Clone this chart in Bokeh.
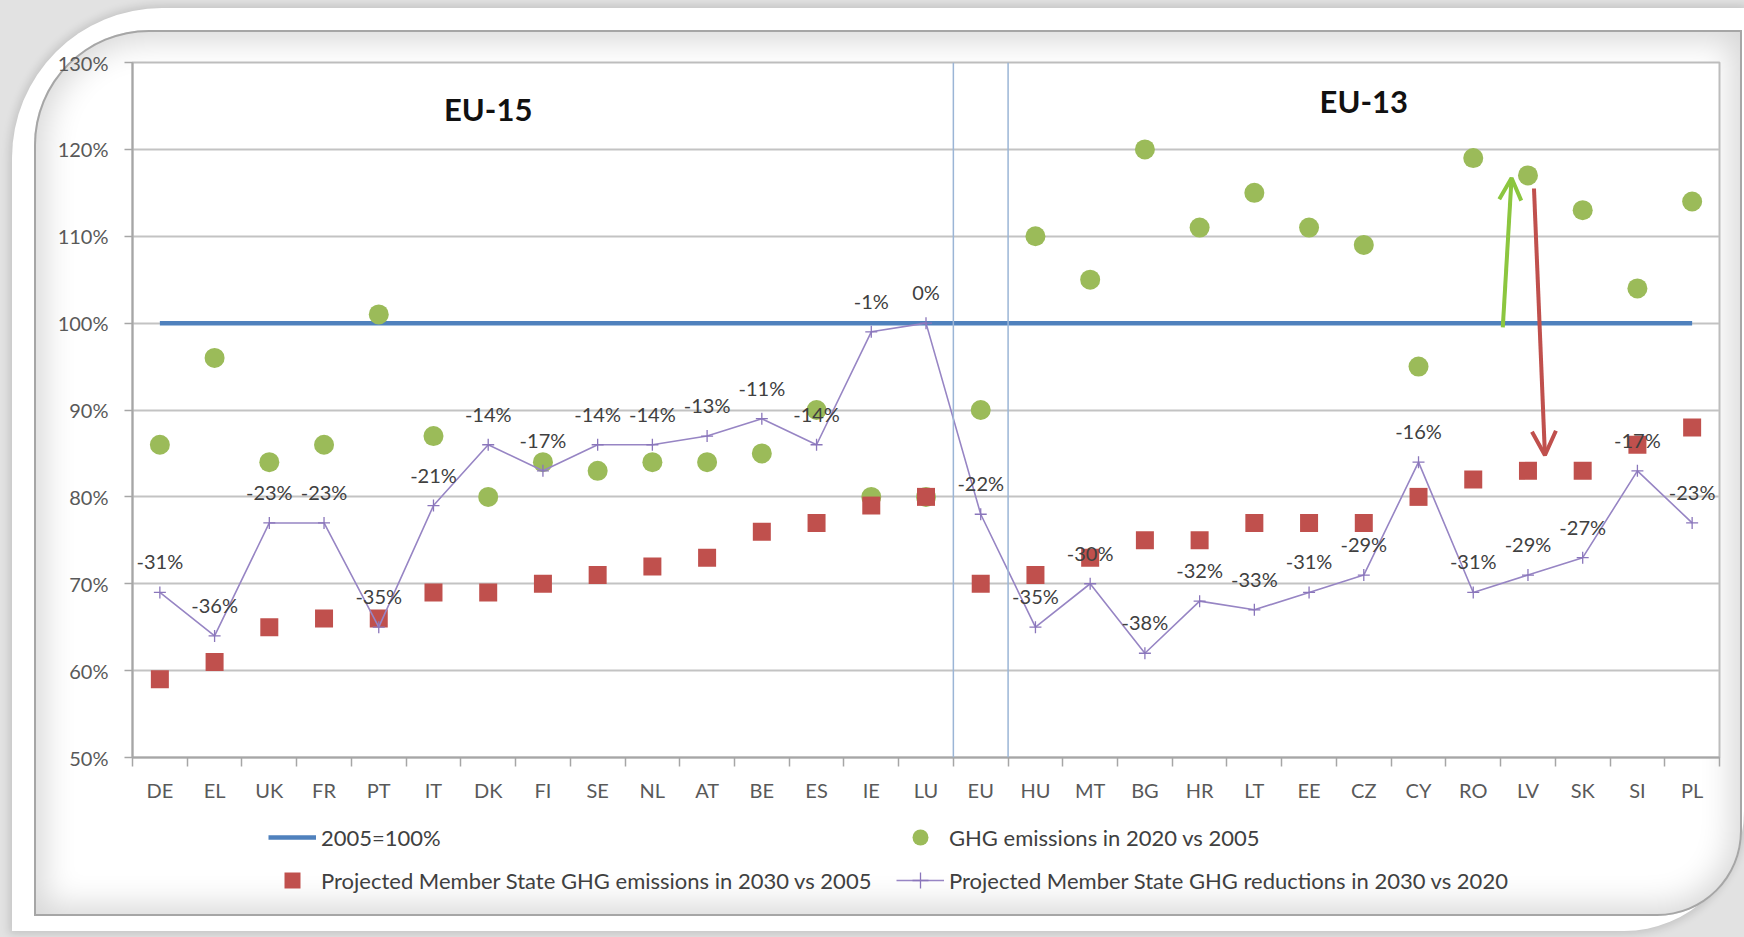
from bokeh.plotting import figure
from bokeh.layouts import column
from bokeh.models import (Range1d, FixedTicker, Span, Legend, LegendItem, Arrow, OpenHead,
                          PrintfTickFormatter)
from bokeh.core.properties import value
from bokeh.embed import file_html
from bokeh.resources import INLINE

# Member states (EU-15, EU average, EU-13)
countries = ["DE", "EL", "UK", "FR", "PT", "IT", "DK", "FI", "SE", "NL", "AT", "BE", "ES", "IE",
             "LU", "EU", "HU", "MT", "BG", "HR", "LT", "EE", "CZ", "CY", "RO", "LV", "SK", "SI", "PL"]

# GHG emissions in 2020 relative to 2005 (%)
ghg_2020_vs_2005 = [86, 96, 84, 86, 101, 87, 80, 84, 83, 84, 84, 85, 90, 80,
                    80, 90, 110, 105, 120, 111, 115, 111, 109, 95, 119, 117, 113, 104, 114]

# Projected GHG emissions in 2030 relative to 2005 (%)
ghg_2030_vs_2005 = [59, 61, 65, 66, 66, 69, 69, 70, 71, 72, 73, 76, 77, 79,
                    80, 70, 71, 73, 75, 75, 77, 77, 77, 80, 82, 83, 83, 86, 88]

# Projected reduction 2030 vs 2020 (%)
reduction_2030_vs_2020 = [-31, -36, -23, -23, -35, -21, -14, -17, -14, -14, -13, -11, -14, -1,
                          0, -22, -35, -30, -38, -32, -33, -31, -29, -16, -31, -29, -27, -17, -23]

base_2005 = 100
y_ticks = [50, 60, 70, 80, 90, 100, 110, 120, 130]
group_titles = ["EU-15", "EU-13"]
group_centres = ["DK", "CZ"]

FONT = "Lato"
W, H = 1744, 937
# inner chart panel inside the rounded card
PW, PH = 1708, 886
CHART_H = 785
LEGEND_H = PH - CHART_H

C_BASE = "#4f81bd"
C_2020 = "#9bbb59"
C_2030 = "#c0504d"
C_RED_LINE = "#9785c4"
C_RED_PTS = "#8a76bb"

# one slot per country; each country sits in the middle of its slot
slot = {c: i + 0.5 for i, c in enumerate(countries)}
xs = [slot[c] for c in countries]
baseline = [base_2005 for _ in countries]
reduction_level = [base_2005 + r for r in reduction_2030_vs_2020]
reduction_text = [f"{r}%" for r in reduction_2030_vs_2020]

p = figure(width=PW, height=CHART_H, x_range=Range1d(0, len(countries)),
           y_range=Range1d(50, 130), output_backend="svg", toolbar_location=None,
           min_border_left=98, min_border_right=23, min_border_top=32,
           min_border_bottom=CHART_H - 32 - 695)

p.border_fill_alpha = 0
p.background_fill_color = "white"
p.outline_line_color = "#bdbdbd"
p.outline_line_width = 2

# y axis
yax = p.yaxis[0]
yax.ticker = FixedTicker(ticks=y_ticks)
yax.formatter = PrintfTickFormatter(format="%d%%")
yax.major_tick_out = 8
yax.major_tick_in = 0
yax.minor_tick_line_color = None
yax.major_tick_line_color = "#a6a6a6"
yax.major_tick_line_width = 1.5
yax.axis_line_color = "#a6a6a6"
yax.axis_line_width = 2
yax.major_label_standoff = 16
yax.major_label_text_font = FONT
yax.major_label_text_font_size = "20px"
yax.major_label_text_color = "#595959"

p.ygrid.ticker = FixedTicker(ticks=y_ticks)
p.ygrid.grid_line_color = "#c3c3c3"
p.ygrid.grid_line_width = 2
p.xgrid.grid_line_color = None

# category axis: labels in the middle of each slot, tick marks between slots
xax = p.xaxis[0]
xax.ticker = FixedTicker(ticks=xs, minor_ticks=list(range(len(countries) + 1)))
xax.major_label_overrides = {slot[c]: c for c in countries}
xax.major_tick_line_color = None
xax.major_tick_out = 0
xax.major_tick_in = 0
xax.minor_tick_out = 9
xax.minor_tick_in = 0
xax.minor_tick_line_color = "#a6a6a6"
xax.minor_tick_line_width = 1.5
xax.axis_line_color = "#a6a6a6"
xax.axis_line_width = 2
xax.major_label_standoff = 11
xax.major_label_text_font = FONT
xax.major_label_text_font_size = "20px"
xax.major_label_text_color = "#595959"

# separators around the EU average
eu_pos = countries.index("EU")
for loc in (eu_pos, eu_pos + 1):
    p.add_layout(Span(location=loc, dimension="height", line_color="#9bb5d6", line_width=1.5))

# series
p.line(xs, baseline, line_color=C_BASE, line_width=4.5)
p.scatter(xs, ghg_2020_vs_2005, marker="circle", size=20, fill_color=C_2020, line_color=None)
p.scatter(xs, ghg_2030_vs_2005, marker="square", size=18, fill_color=C_2030, line_color=None)
p.line(xs, reduction_level, line_color=C_RED_LINE, line_width=1.6)
p.scatter(xs, reduction_level, marker="cross", size=12, line_color=C_RED_PTS, line_width=1.3)

p.text(xs, reduction_level, text=reduction_text, text_align="center",
       text_baseline="middle", y_offset=-31, text_font=value(FONT),
       text_font_size="20px", text_color="#404040")

# group titles
p.text([slot[c] for c in group_centres], [124.7, 125.6], text=group_titles, text_align="center",
       text_baseline="middle", text_font=value(FONT), text_font_style="bold",
       text_font_size="31px", text_color="#111111")

# arrows showing the move from 2020 to 2030 for LV
lv_i = countries.index("LV")
lv = slot["LV"]
p.add_layout(Arrow(x_start=lv - 0.46, y_start=base_2005 - 0.5, x_end=lv - 0.30,
                   y_end=ghg_2020_vs_2005[lv_i] - 0.3,
                   line_color="#8cc63f", line_width=4,
                   end=OpenHead(size=22, line_color="#8cc63f", line_width=4)))
p.add_layout(Arrow(x_start=lv + 0.11, y_start=ghg_2020_vs_2005[lv_i] - 1.5, x_end=lv + 0.31,
                   y_end=ghg_2030_vs_2005[lv_i] + 1.8,
                   line_color=C_2030, line_width=4,
                   end=OpenHead(size=24, line_color=C_2030, line_width=4)))

# legend strip under the chart; its sample renderers sit outside the strip's
# visible range, so only their legend glyphs are drawn
q = figure(width=PW, height=LEGEND_H, x_range=Range1d(0, 1), y_range=Range1d(0, 1),
           output_backend="svg", toolbar_location=None, min_border=0)
q.axis.visible = False
q.grid.visible = False
q.outline_line_color = None
q.border_fill_alpha = 0
q.background_fill_alpha = 0

off = [-5.0]
k_base = q.line(off, off, line_color=C_BASE, line_width=4.5)
k_2030 = q.scatter(off, off, marker="square", fill_color=C_2030, line_color=None)
k_2020 = q.scatter(off, off, marker="circle", fill_color=C_2020, line_color=None)
k_line = q.line(off, off, line_color=C_RED_LINE, line_width=1.6)
k_pts = q.scatter(off, off, marker="cross", line_color=C_RED_PTS, line_width=1.3)

legend = Legend(items=[LegendItem(label="2005=100%", renderers=[k_base]),
                       LegendItem(label="Projected Member State GHG emissions in 2030 vs 2005",
                                  renderers=[k_2030]),
                       LegendItem(label="GHG emissions in 2020 vs 2005", renderers=[k_2020]),
                       LegendItem(label="Projected Member State GHG reductions in 2030 vs 2020",
                                  renderers=[k_line, k_pts])],
                location=(136, 16), orientation="vertical", ncols=2,
                background_fill_alpha=0, border_line_color=None, padding=0, margin=0,
                spacing=3, glyph_width=48, glyph_height=40, label_height=40,
                label_width=572, label_standoff=5, label_text_font=FONT,
                label_text_font_size="22px", label_text_color="#404040")
q.add_layout(legend)

# page: grey backdrop, white rounded card, chart panel with an inner shadow
panel = column(p, q, width=PW, height=PH, margin=(22, 0, 0, 22),
               styles={"background-color": "white",
                       "border-radius": "115px 0 85px 0",
                       "box-shadow": "inset 0 0 0 2px #a6a6a6, "
                                     "inset 0 0 32px 10px rgba(0,0,0,0.16)"})
card = column(panel, width=W - 12, height=H - 14, margin=(8, 0, 0, 12),
              styles={"background-color": "white", "border-radius": "150px 0 120px 0",
                      "box-shadow": "0 0 9px 3px rgba(0,0,0,0.13)"})
page = column(card, width=W, height=H, styles={"background-color": "#e2e2e2"})

open("out.html", "w").write(file_html(page, INLINE))
